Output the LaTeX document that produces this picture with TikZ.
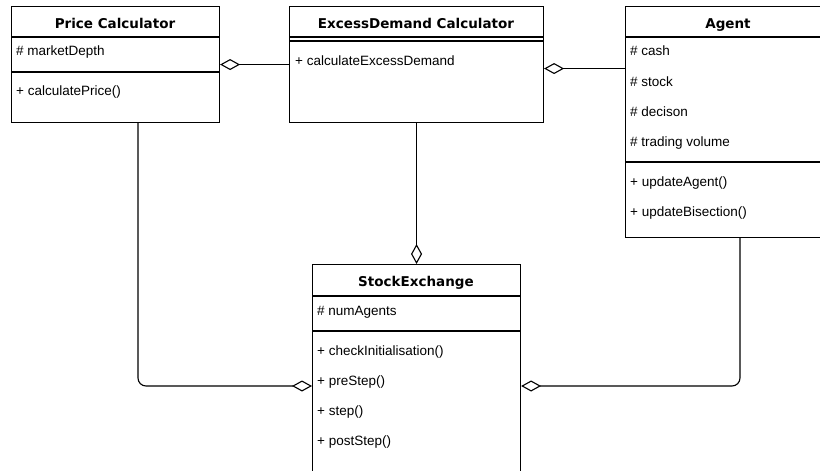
\documentclass[tikz,border=0pt]{standalone}
\usepackage{fontspec}
\setmainfont{Liberation Sans}
\newfontfamily\headfont{DejaVu Sans}
\usetikzlibrary{arrows.meta}
\tikzset{
  classbox/.style={draw, line width=1.1pt, anchor=north west, inner sep=0pt},
  classname/.style={anchor=base, inner sep=0pt, font=\headfont\bfseries\fontsize{13.5}{16}\selectfont},
  member/.style={anchor=base west, inner sep=0pt, font=\fontsize{13.5}{16}\selectfont},
  aggr/.style={draw, line width=1.1pt, -{Diamond[open, length=20pt, width=11pt]}}
}
\begin{document}
\begin{tikzpicture}[x=1pt, y=-1pt]
  \clip (0,0) rectangle (820,471);
  % classes
  \node[classbox, minimum width=208pt, minimum height=116pt] (pricecalc) at (11,6) {};
  \node[classbox, minimum width=254pt, minimum height=116pt] (excessdemand) at (289,6) {};
  \node[classbox, minimum width=206pt, minimum height=231pt] (agent) at (625,6) {};
  \node[classbox, minimum width=208pt, minimum height=240pt] (stockexchange) at (312,264) {};
  % compartments
  \draw[line width=1.1pt] (11,37) -- (219,37) (11,72) -- (219,72);
  \draw[line width=1.1pt] (289,37) -- (543,37) (289,41) -- (543,41);
  \draw[line width=1.1pt] (625,37) -- (831,37) (625,162) -- (831,162);
  \draw[line width=1.1pt] (312,296) -- (520,296) (312,331) -- (520,331);
  % Price Calculator
  \node[classname] (pctitle) at (115,28.5) {Price Calculator};
  \node[member] (pcdepth) at (16,56) {\# marketDepth};
  \node[member] (pcprice) at (16,95.5) {+ calculatePrice()};
  % ExcessDemand Calculator
  \node[classname] (edtitle) at (416,28.5) {ExcessDemand Calculator};
  \node[member] (edcalc) at (295,65.5) {+ calculateExcessDemand};
  % Agent
  \node[classname] (agtitle) at (728,28.5) {Agent};
  \node[member] (agcash) at (630,56) {\# cash};
  \node[member] (agstock) at (630,86) {\# stock};
  \node[member] (agdecision) at (630,116) {\# decison};
  \node[member] (agvolume) at (630,146) {\# trading volume};
  \node[member] (agupdate) at (630,186.5) {+ updateAgent()};
  \node[member] (agbisect) at (630,216) {+ updateBisection()};
  % StockExchange
  \node[classname] (setitle) at (416,286.5) {StockExchange};
  \node[member] (senum) at (317,315.5) {\# numAgents};
  \node[member] (secheck) at (317,355) {+ checkInitialisation()};
  \node[member] (sepre) at (317,385.5) {+ preStep()};
  \node[member] (sestep) at (317,415.5) {+ step()};
  \node[member] (sepost) at (317,445.5) {+ postStep()};
  % aggregations
  \coordinate (edlink) at ([yshift=-4pt]excessdemand.east);
  \coordinate (sejoinl) at (stockexchange.west |- 0,386);
  \coordinate (sejoinr) at (stockexchange.east |- 0,386);
  \draw[aggr] (excessdemand.west) -- (pricecalc.east);
  \draw[aggr] (agent.west |- edlink) -- (edlink);
  \draw[aggr] (excessdemand.south) -- (stockexchange.north);
  \draw[aggr, rounded corners=8pt] (pricecalc.south -| 138,0) |- (sejoinl);
  \draw[aggr, rounded corners=8pt] (agent.south -| 740,0) |- (sejoinr);
\end{tikzpicture}
\end{document}
